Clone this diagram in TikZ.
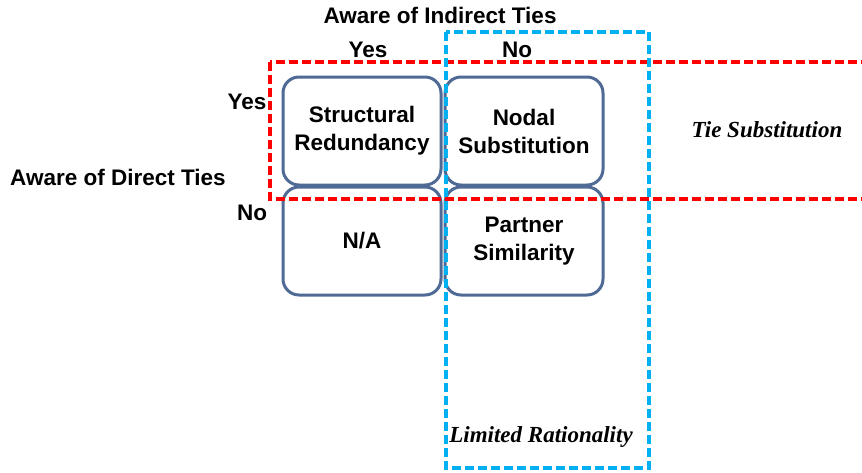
\documentclass[tikz,border=0pt]{standalone}
\usepackage{fontspec}
\setmainfont{Liberation Sans}
\newfontfamily\tiefont{Liberation Serif}
\usetikzlibrary{positioning}
\definecolor{boxblue}{RGB}{79,106,148}
\definecolor{tiered}{RGB}{255,0,0}
\definecolor{ratblue}{RGB}{0,176,240}

\begin{document}
\begin{tikzpicture}[x=1pt,y=-1pt,node distance=162pt,
		        cell/.style={draw=boxblue,line width=3pt,rounded corners=16pt,minimum width=158pt,minimum height=108pt,align=center,font=\fontsize{22.5}{28}\selectfont\bfseries},
		        axis/.style={font=\fontsize{22.5}{24}\selectfont\bfseries},
		        group/.style={font=\fontsize{23}{24}\selectfont\tiefont\bfseries\itshape},
		        zone/.style={line width=3.2pt,dash pattern=on 9pt off 4pt}]
		        \useasboundingbox (0,0) rectangle (862,472);
		        
		        % the four cells
		        \node[cell] (sr) at (362,131) {Structural\\Redundancy};
		        \node[cell] (ns) [right of = sr] {Nodal\\Substitution};
		        \node[cell] (na) [below of = sr, node distance=110pt] {N/A};
		        \node[cell] (ps) [right of = na] {Partner\\Similarity};
		        
		        % axis labels
		        \node[axis] (indirect) at (440,15) {Aware of Indirect Ties};
		        \node[axis] (iyes) at (368,50) {Yes};
		        \node[axis] (ino) at (517,50) {No};
		        \node[axis] (direct) at (118,177) {Aware of Direct Ties};
		        \node[axis] (dyes) at (247,102) {Yes};
		        \node[axis] (dno) at (252,213) {No};
		        
		        % dashed zones
		        \draw[zone, tiered] (270,62) rectangle (875,199);
		        \draw[zone, ratblue] (446,32) rectangle (649,468);
		        \node[group] (tie) at (767,130) {Tie Substitution};
		        \node[group] (lim) at (541,437) {Limited Rationality};
		    \end{tikzpicture}
\end{document}
